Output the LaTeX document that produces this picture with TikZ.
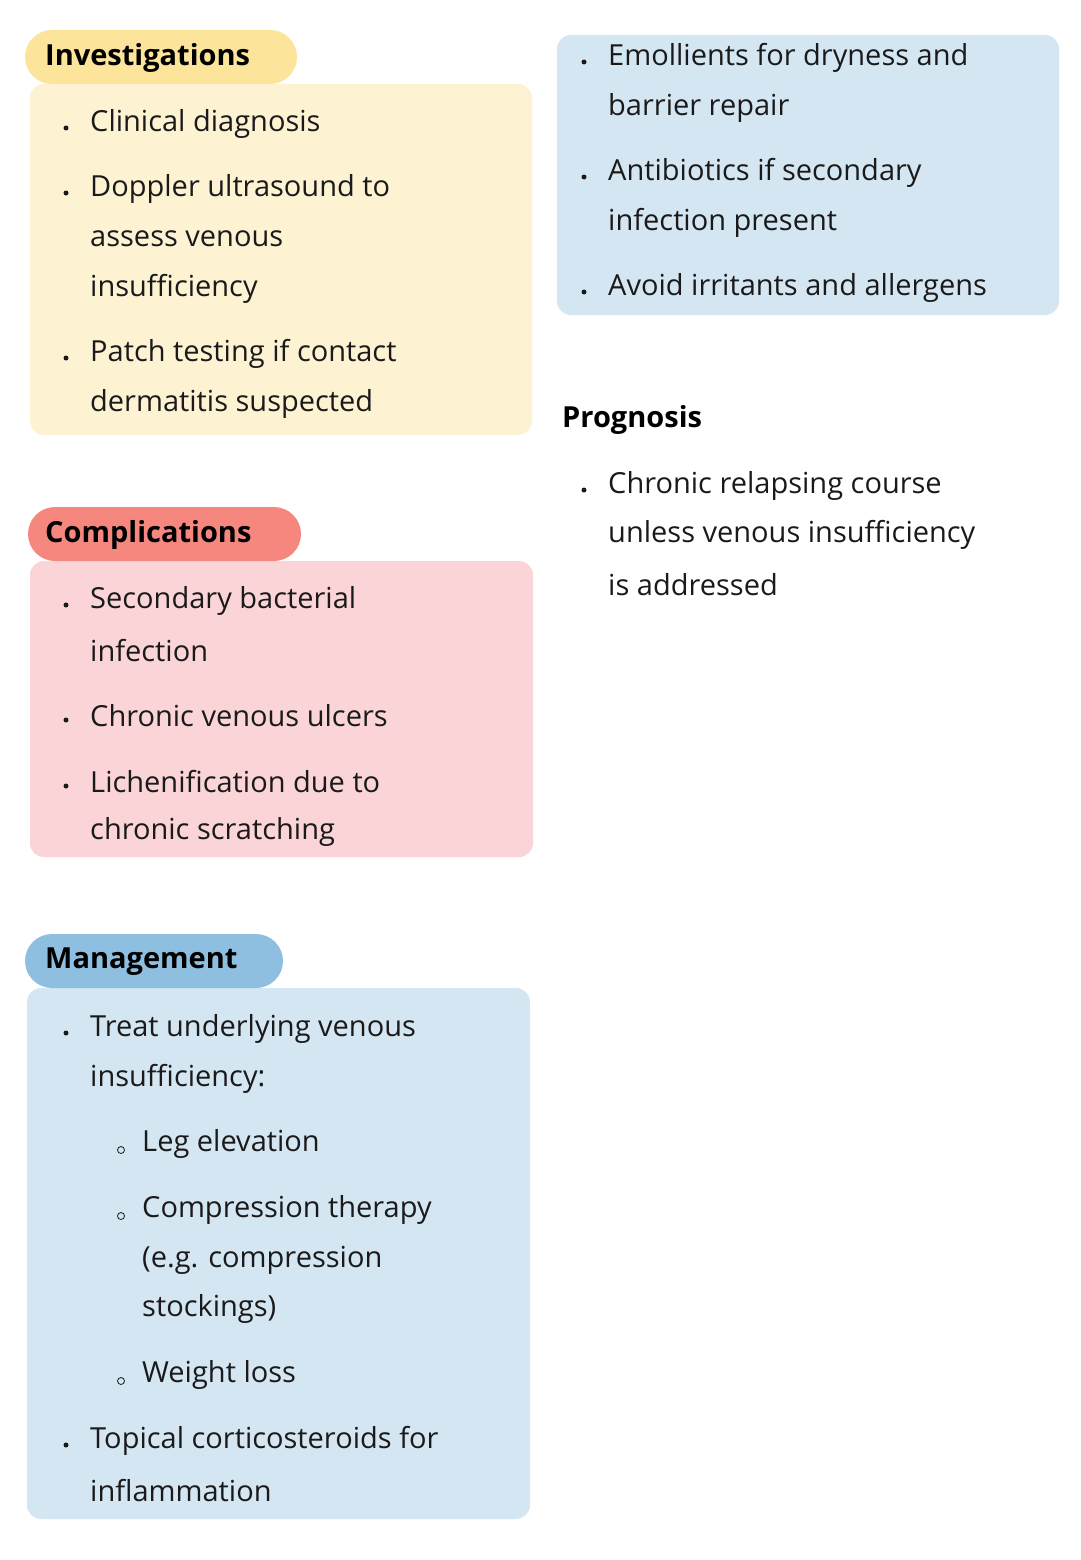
\documentclass[tikz,border=0pt]{standalone}
\usepackage{fontspec}
\setmainfont{Open Sans}
\definecolor{yelpill}{HTML}{FCE49A}
\definecolor{yelbox}{HTML}{FDF3D3}
\definecolor{redpill}{HTML}{F5877F}
\definecolor{redbox}{HTML}{FAD4D6}
\definecolor{bluepill}{HTML}{8EBFE0}
\definecolor{bluebox}{HTML}{D5E6F3}
\definecolor{txt}{HTML}{1A1A1A}
\begin{document}
\begin{tikzpicture}[x=1pt,y=-1pt,
  ln/.style={anchor=west,inner sep=0pt,font=\fontsize{29}{34}\selectfont,text=txt},
  hd/.style={anchor=west,inner sep=0pt,font=\fontsize{29}{34}\selectfont\bfseries,text=black},
  dot/.style={circle,fill=txt,inner sep=0pt,minimum size=5pt},
  odot/.style={circle,draw=txt,line width=0.8pt,inner sep=0pt,minimum size=7pt}]
\useasboundingbox (0,0) rectangle (1080,1560);
\fill[white] (0,0) rectangle (1080,1560);
% boxes
\fill[yelbox,rounded corners=14pt] (30,84) rectangle (532,435);
\fill[yelpill,rounded corners=27pt] (25,30) rectangle (297,84);
\fill[redbox,rounded corners=14pt] (30,561) rectangle (533,857);
\fill[redpill,rounded corners=27pt] (28,507) rectangle (301,561);
\fill[bluebox,rounded corners=14pt] (27,988) rectangle (530,1519);
\fill[bluepill,rounded corners=27pt] (25,934) rectangle (283,988);
\fill[bluebox,rounded corners=14pt] (557,35) rectangle (1059,315);
% headings
\node[hd] (h1) at (45,58) {Investigations};
\node[hd] (h2) at (45,535) {Complications};
\node[hd] (h3) at (45,962) {Management};
\node[hd] (h4) at (562,420) {Prognosis};
% investigations
\node[dot] at (66,128) {}; \node[ln] (i1) at (90,124) {Clinical diagnosis};
\node[dot] at (66,193) {}; \node[ln] (i2) at (90,189) {Doppler ultrasound to};
\node[ln] (i3) at (90,239) {assess venous};
\node[ln] (i4) at (90,289) {insufficiency};
\node[dot] at (66,358) {}; \node[ln] (i5) at (90,354) {Patch testing if contact};
\node[ln] (i6) at (90,404) {dermatitis suspected};
% complications
\node[dot] at (66,605) {}; \node[ln] (c1) at (90,601) {Secondary bacterial};
\node[ln] (c2) at (90,651) {infection};
\node[dot] at (66,720) {}; \node[ln] (c3) at (90,716) {Chronic venous ulcers};
\node[dot] at (66,786) {}; \node[ln] (c4) at (90,782) {Lichenification due to};
\node[ln] (c5) at (90,832) {chronic scratching};
% management
\node[dot] at (66,1033) {}; \node[ln] (m1) at (90,1029) {Treat underlying venous};
\node[ln] (m2) at (90,1079) {insufficiency:};
\node[odot] at (121,1150) {}; \node[ln] (m3) at (142,1144) {Leg elevation};
\node[odot] at (121,1216) {}; \node[ln] (m4) at (142,1210) {Compression therapy};
\node[ln] (m5) at (142,1260) {(e.g. compression};
\node[ln] (m6) at (142,1309) {stockings)};
\node[odot] at (121,1381) {}; \node[ln] (m7) at (142,1375) {Weight loss};
\node[dot] at (66,1445) {}; \node[ln] (m8) at (90,1441) {Topical corticosteroids for};
\node[ln] (m9) at (90,1491) {inflammation};
% right box
\node[dot] at (584,62) {}; \node[ln] (r1) at (608,58) {Emollients for dryness and};
\node[ln] (r2) at (608,108) {barrier repair};
\node[dot] at (584,177) {}; \node[ln] (r3) at (608,173) {Antibiotics if secondary};
\node[ln] (r4) at (608,223) {infection present};
\node[dot] at (584,292) {}; \node[ln] (r5) at (608,288) {Avoid irritants and allergens};
% prognosis
\node[dot] at (584,490) {}; \node[ln] (p1) at (608,486) {Chronic relapsing course};
\node[ln] (p2) at (608,535) {unless venous insufficiency};
\node[ln] (p3) at (608,585) {is addressed};
\end{tikzpicture}
\end{document}
